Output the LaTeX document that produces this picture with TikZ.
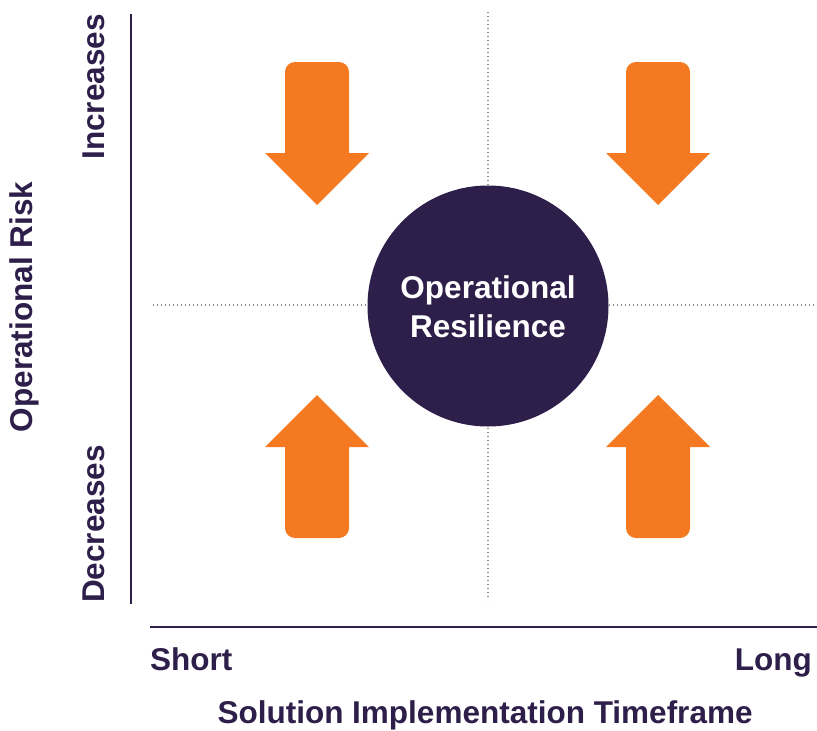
\documentclass[tikz,border=0pt]{standalone}
\usepackage{fontspec}
\setmainfont{Liberation Sans}
\definecolor{deep}{HTML}{2D1F4A}
\definecolor{arr}{HTML}{F47920}
\definecolor{dotgray}{HTML}{8C8C8C}
\begin{document}
\begin{tikzpicture}[x=1pt,y=-1pt,
  lbl/.style={text=deep,font=\fontsize{31.5}{38}\selectfont\bfseries,inner sep=0pt},
  axisline/.style={draw=deep,line width=2pt},
  guide/.style={draw=dotgray,line width=1.2pt,dash pattern=on 1.2pt off 2.8pt},
  arrfill/.style={fill=arr}]
\useasboundingbox (0,0) rectangle (817,731);
% guides
\coordinate (gt) at (488,12); \coordinate (gb) at (488,600);
\coordinate (gl) at (153,305); \coordinate (gr) at (817,305);
\draw[guide] (gt) -- (gb);
\draw[guide] (gl) -- (gr);
% axes
\coordinate (vt) at (131,14); \coordinate (vb) at (131,604);
\coordinate (hl) at (150,627); \coordinate (hr) at (817,627);
\draw[axisline] (vt) -- (vb);
\draw[axisline] (hl) -- (hr);
% arrows
\foreach \cx in {317,658}{
  \fill[arrfill] (\cx-32,153) -- (\cx-32,72) arc(180:270:10) -- (\cx+22,62) arc(270:360:10)
    -- (\cx+32,153) -- (\cx+52,153) -- (\cx,205) -- (\cx-52,153) -- cycle;
  \fill[arrfill] (\cx-32,447) -- (\cx-32,528) arc(180:90:10) -- (\cx+22,538) arc(90:0:10)
    -- (\cx+32,447) -- (\cx+52,447) -- (\cx,395) -- (\cx-52,447) -- cycle;
}
% circle
\node[circle,fill=deep,minimum size=241pt,inner sep=0pt] (res) at (488,306) {};
\node[lbl,text=white,anchor=base] (res1) at (488,298) {Operational};
\node[lbl,text=white,anchor=base] (res2) at (488,337) {Resilience};
% labels
\node[lbl,rotate=90,anchor=base] (inc) at (104,87) {Increases};
\node[lbl,rotate=90,anchor=base] (dec) at (104,524) {Decreases};
\node[lbl,rotate=90,anchor=base] (risk) at (32,307) {Operational Risk};
\node[lbl,anchor=base west] (short) at (150,670) {Short};
\node[lbl,anchor=base east] (long) at (812,670) {Long};
\node[lbl,anchor=base] (time) at (485,723) {Solution Implementation Timeframe};
\end{tikzpicture}
\end{document}
